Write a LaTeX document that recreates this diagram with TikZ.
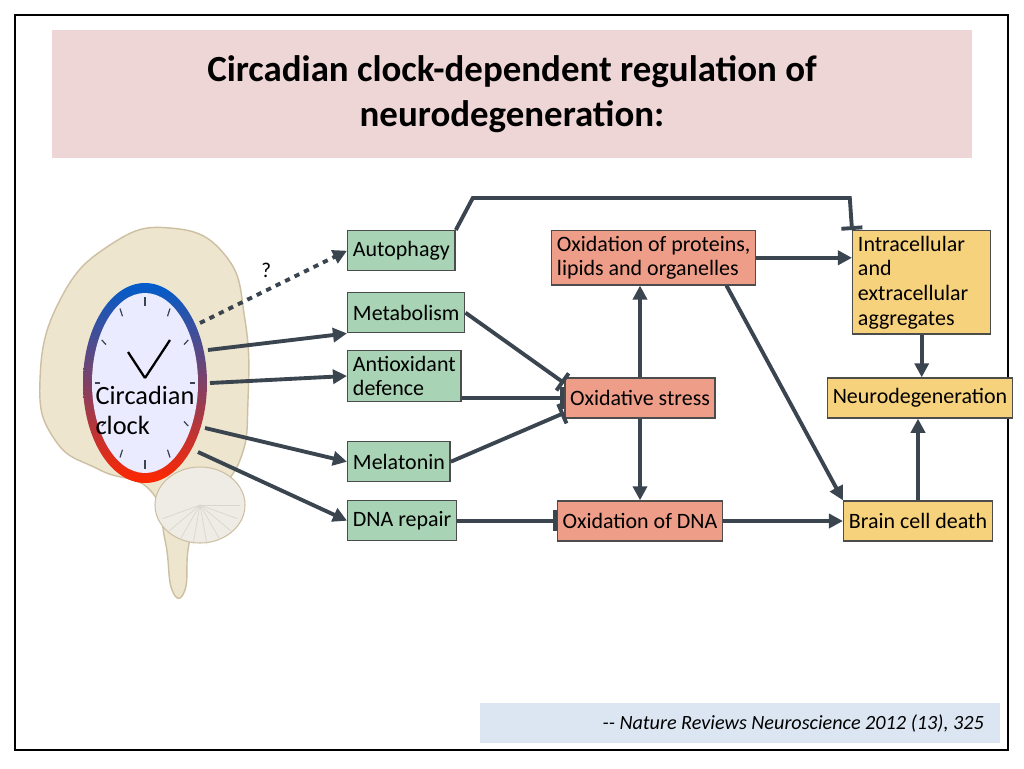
\documentclass[tikz,border=0pt]{standalone}
\usepackage{fontspec}
\setmainfont{Carlito}
\usetikzlibrary{arrows.meta,positioning,calc}
\definecolor{arrowgray}{HTML}{3A4550}
\definecolor{titlepink}{HTML}{EFD6D6}
\definecolor{citeblue}{HTML}{DCE6F2}
\definecolor{boxgreen}{HTML}{A8D3B4}
\definecolor{boxsalmon}{HTML}{EE9E88}
\definecolor{boxyellow}{HTML}{F7D27C}
\definecolor{brainfill}{HTML}{EEE5CF}
\definecolor{brainline}{HTML}{CDBFA2}
\tikzset{
  box/.style={draw=black!70, line width=0.8pt, inner sep=3pt, align=left, font=\fontsize{12.5}{14}\selectfont},
  green/.style={box, fill=boxgreen, minimum height=0.8cm},
  salmon/.style={box, fill=boxsalmon},
  yellow/.style={box, fill=boxyellow},
  link/.style={draw=arrowgray, line width=2.2pt, -{Triangle[length=8pt,width=8pt]}},
  block/.style={draw=arrowgray, line width=2.2pt, -{Bar[width=12pt]}}
}
\begin{document}
\begin{tikzpicture}[x=0.02cm,y=-0.02cm]
	\useasboundingbox (0,0) rectangle (1024,768);
	\fill[white] (0,0) rectangle (1024,768);
	\draw[line width=1.5pt] (15,15) rectangle (1008,750);

	% title and source
	\fill[titlepink] (52,30) rectangle (972,158);
	\node[font=\fontsize{21}{26}\selectfont\bfseries, align=center] (title) at (512,94)
	  {Circadian clock-dependent regulation of\\neurodegeneration:};
	\fill[citeblue] (480,703) rectangle (1000,743);
	\node[font=\fontsize{11.5}{13}\selectfont\itshape, anchor=east] (cite) at (990,723)
	  {{-}{-} Nature Reviews Neuroscience 2012 (13), 325};

	% brain
	\draw[brainline, fill=brainfill, line width=0.8pt] plot[smooth cycle, tension=0.8] coordinates
	  {(60,300) (110,245) (170,228) (225,255) (245,320) (248,400) (240,460) (210,500) (190,540) (185,590) (172,590) (165,540) (150,490) (100,470) (55,440) (40,380)};
	\draw[brainline, fill=brainfill!80!gray!40, line width=0.6pt] (200,505) ellipse (45 and 38);
	\foreach \a in {0,20,...,160}
	  \draw[brainline!80!black!40, line width=0.4pt] (200,505) -- ++(\a:40);

	% clock
	\shade[top color=blue!55!cyan!80!black, bottom color=red!70!orange] (145,383) ellipse (62 and 100);
	\fill[white!92!blue] (145,383) ellipse (53 and 90);
	\foreach \t in {0,30,...,330}
	  \draw[arrowgray, line width=0.7pt] ($(145,383)+(\t:45 and 77)$) -- ($(145,383)+(\t:50 and 86)$);
	\draw[black, line width=1.3pt] (145,378) -- (128,352);
	\draw[black, line width=1.3pt] (145,378) -- (170,340);
	\node[font=\fontsize{15}{17}\selectfont, align=left] (clock) at (145,410) {Circadian\\clock};
	\coordinate (c1) at (200,323);
	\coordinate (c2) at (208,350);
	\coordinate (c3) at (210,383);
	\coordinate (c4) at (205,428);
	\coordinate (c5) at (198,452);

	% boxes
	\node[green, anchor=north west] (auto) at (347,230) {Autophagy};
	\node[green, anchor=north west] (meta) at (347,292) {Metabolism};
	\node[green, anchor=north west] (anti) at (347,350) {Antioxidant\\defence};
	\node[green, anchor=north west] (mela) at (347,441) {Melatonin};
	\node[green, anchor=north west] (dna) at (347,500) {DNA repair};
	\node[salmon, anchor=north west] (oxprot) at (551,230) {Oxidation of proteins,\\lipids and organelles};
	\node[salmon, minimum width=2.9cm, minimum height=0.8cm] (oxstress) at (640,398) {Oxidative stress};
	\node[salmon, minimum width=2.9cm, minimum height=0.8cm] (oxdna) at (640,521) {Oxidation of DNA};
	\node[yellow, anchor=north west, text width=2.55cm] (aggr) at (852,230) {Intracellular and\\extracellular\\aggregates};
	\node[yellow, minimum width=3.1cm, minimum height=0.8cm] (neuro) at (920,398) {Neurodegeneration};
	\node[yellow, minimum width=2.5cm, minimum height=0.8cm] (death) at (918,521) {Brain cell death};

	% connectors
	\draw[link, dashed] (c1) -- (auto.west) node[pos=0.45, above=3pt, black, font=\large] {?};
	\draw[link] (c2) -- (meta.south west);
	\draw[link] (c3) -- (anti.west);
	\draw[link] (c4) -- (mela.west);
	\draw[link] (c5) -- (dna.west);
	\draw[block] (meta.east) -- ([yshift=0.3cm]oxstress.west);
	\draw[block] (anti.east |- oxstress.west) -- (oxstress.west);
	\draw[block] (mela.east) -- ([yshift=-0.3cm]oxstress.west);
	\draw[block] (dna.east) -- (dna.east -| oxdna.west);
	\draw[block] (auto.north east) -- ++(17,-32) coordinate (top1) -- ++(377,0) coordinate (top2) -- (aggr.north west);
	\draw[link] (oxstress.north) -- (oxstress.north |- oxprot.south);
	\draw[link] (oxstress.south) -- (oxdna.north);
	\draw[link] (oxprot.east) -- (oxprot.east -| aggr.west);
	\draw[link] ([xshift=-0.6cm]oxprot.south east) -- (death.north west);
	\draw[link] (oxdna.east) -- (death.west);
	\draw[link] (aggr.south) -- (aggr.south |- neuro.north);
	\draw[link] (death.north) -- (death.north |- neuro.south);
\end{tikzpicture}
\end{document}
